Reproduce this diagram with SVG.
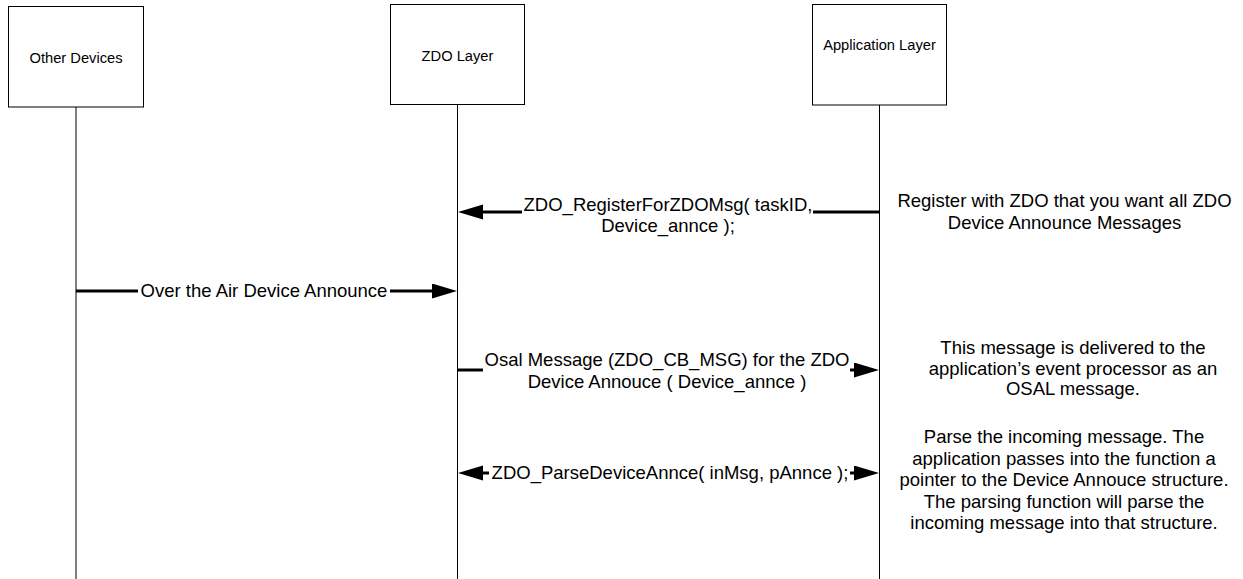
<svg xmlns="http://www.w3.org/2000/svg" width="1243" height="579" viewBox="0 0 1243 579">
<style>
.box{fill:#fff;stroke:#000;stroke-width:1}
.life{stroke:#000;stroke-width:1;fill:none}
.msg{stroke:#000;stroke-width:3;fill:none}
.bl{font-family:"Liberation Sans",Arial,sans-serif;font-size:14.7px;fill:#000;text-anchor:middle}
.t{font-family:"Liberation Sans",Arial,sans-serif;font-size:18.5px;fill:#000;text-anchor:middle}
</style>
<defs>
<marker id="ah" markerUnits="userSpaceOnUse" markerWidth="26" markerHeight="16" refX="0" refY="7.5" orient="auto">
<path d="M0,0 L25,7.5 L0,15 Z" fill="#000"/>
</marker>
</defs>
<g id="other-devices">
<rect class="box" x="8.5" y="6.5" width="135" height="100.5"/>
<text class="bl" x="76" y="63">Other Devices</text>
</g>
<g id="zdo-layer">
<rect class="box" x="390.5" y="4.5" width="134" height="100"/>
<text class="bl" x="457.5" y="61">ZDO Layer</text>
</g>
<g id="application-layer">
<rect class="box" x="812.5" y="4.5" width="134" height="100.5"/>
<text class="bl" x="879.5" y="50">Application Layer</text>
</g>
<g id="lifelines">
<line class="life" x1="76" y1="107" x2="76" y2="579"/>
<line class="life" x1="457.5" y1="104.5" x2="457.5" y2="579"/>
<line class="life" x1="879.5" y1="105" x2="879.5" y2="579"/>
</g>
<g id="connectors">
<path class="msg" d="M880,212 H813 M522,212 H483" marker-end="url(#ah)"/>
<path class="msg" d="M76,291 H138 M390,291 H432" marker-end="url(#ah)"/>
<path class="msg" d="M458,370 H483 M850,370 H854" marker-end="url(#ah)"/>
<path class="msg" d="M489,473 H483" marker-end="url(#ah)"/>
<path class="msg" d="M850,473 H854" marker-end="url(#ah)"/>
</g>
<g id="labels">
<text class="t" x="668" y="211">ZDO_RegisterForZDOMsg( taskID,</text>
<text class="t" x="668" y="232">Device_annce );</text>
<text class="t" x="264" y="297">Over the Air Device Announce</text>
<text class="t" x="667" y="366">Osal Message (ZDO_CB_MSG) for the ZDO</text>
<text class="t" x="667" y="388">Device Annouce ( Device_annce )</text>
<text class="t" x="670" y="479">ZDO_ParseDeviceAnnce( inMsg, pAnnce );</text>
</g>
<g id="notes">
<text class="t" x="1064.5" y="207">Register with ZDO that you want all ZDO</text>
<text class="t" x="1064.5" y="229">Device Announce Messages</text>
<text class="t" x="1073" y="354">This message is delivered to the</text>
<text class="t" x="1073" y="375">application’s event processor as an</text>
<text class="t" x="1073" y="395">OSAL message.</text>
<text class="t" x="1064" y="443">Parse the incoming message. The</text>
<text class="t" x="1064" y="464.5">application passes into the function a</text>
<text class="t" x="1064" y="486">pointer to the Device Annouce structure.</text>
<text class="t" x="1064" y="507.5">The parsing function will parse the</text>
<text class="t" x="1064" y="529">incoming message into that structure.</text>
</g>
</svg>
